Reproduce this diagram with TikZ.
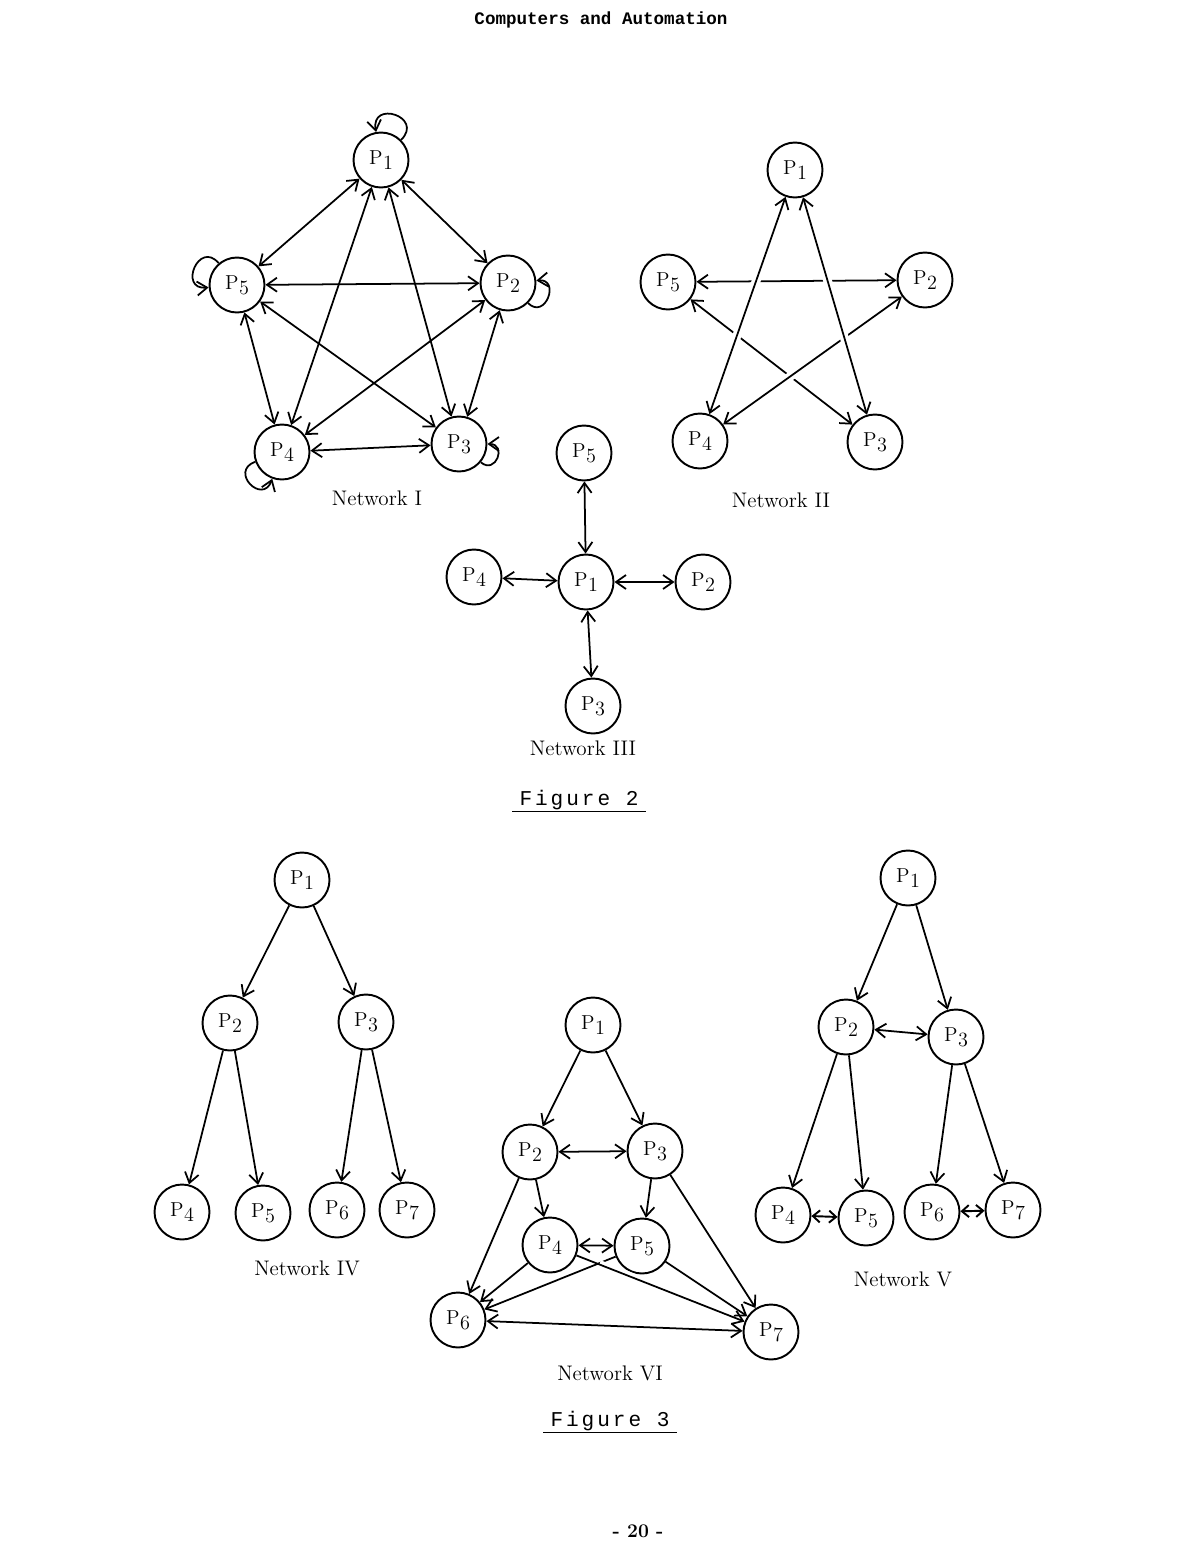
\documentclass[tikz,border=0pt]{standalone}
\usepackage{fontspec}
\newfontfamily\headfont{Liberation Mono}
\newfontfamily\figfont{Liberation Mono}[LetterSpace=14]
\usetikzlibrary{arrows.meta,calc}
\newcommand{\plabel}[1]{P\kern.3pt\raisebox{-.6ex}{#1}}
\tikzset{
  proc/.style={circle,draw,line width=1.1pt,minimum size=1.1cm,inner sep=0pt,
               font=\fontsize{11.5}{13}\selectfont},
  oneway/.style={-{Straight Barb[length=2mm,width=2.8mm]},line width=1pt},
  twoway/.style={{Straight Barb[length=2mm,width=2.8mm]}-{Straight Barb[length=2mm,width=2.8mm]},line width=1pt},
  shortway/.style={{Straight Barb[length=1.4mm,width=2.4mm]}-{Straight Barb[length=1.4mm,width=2.4mm]},line width=1.1pt},
  over/.style={preaction={draw,white,line width=5pt,-,shorten <=14pt,shorten >=14pt}},
  netlbl/.style={font=\fontsize{12}{14}\selectfont},
  figlbl/.style={font=\figfont\fontsize{12}{14}\selectfont,inner sep=1pt},
}
\begin{document}
\begin{tikzpicture}[x=0.02cm,y=-0.02cm]
\useasboundingbox (0,0) rectangle (1188,1549);
% page head and foot
\node[font=\headfont\bfseries\fontsize{10}{12}\selectfont] (head) at (601,20) {Computers and Automation};
\node[font=\bfseries\fontsize{11}{13}\selectfont] (page) at (638,1531) {- 20 -};
% network I
\foreach \n/\x/\y in {1/381/160,2/508/283,3/459/444,4/282/452,5/237/285}
  \node[proc] (i\n) at (\x,\y) {\plabel{\n}};
\foreach \s/\t in {1/5,1/2,1/4,1/3,5/2,5/4,5/3,2/4,2/3,4/3}
  \draw[twoway] (i\s) -- (i\t);
\draw[oneway] (i1) to[out=45,in=100,looseness=3.2] (i1);
\draw[oneway] (i5) to[out=130,in=185,looseness=3] (i5);
\draw[oneway] (i2) to[out=-45,in=5,looseness=2.6] (i2);
\draw[oneway] (i4) to[out=200,in=250,looseness=3] (i4);
\draw[oneway] (i3) to[out=-40,in=0,looseness=2.6] (i3);
\node[netlbl] (lab1) at (377,498) {Network I};
% network II
\foreach \n/\x/\y in {1/795/170,2/925/280,3/875/442,4/700/441,5/668/282}
  \node[proc] (ii\n) at (\x,\y) {\plabel{\n}};
\draw[twoway] (ii5) -- (ii2);
\draw[twoway] (ii5) -- (ii3);
\draw[twoway,over] (ii2) -- (ii4);
\draw[twoway,over] (ii1) -- (ii4);
\draw[twoway,over] (ii1) -- (ii3);
\node[netlbl] (lab2) at (781,500) {Network II};
% network III
\foreach \n/\x/\y in {1/586/582,2/703/582,3/593/706,4/474/577,5/584/453}
  \node[proc] (iii\n) at (\x,\y) {\plabel{\n}};
\foreach \t in {2,3,4,5}
  \draw[twoway] (iii1) -- (iii\t);
\node[netlbl] (lab3) at (583,748) {Network III};
\node[figlbl] (fig2) at (579,800) {Figure 2};
\draw[line width=0.9pt] ($(fig2.base west)+(-3pt,-3.5pt)$) -- ($(fig2.base east)+(3pt,-3.5pt)$);
% network IV
\foreach \n/\x/\y in {1/302/880,2/230/1023,3/366/1022,4/182/1212,5/263/1213,6/337/1210,7/407/1210}
  \node[proc] (iv\n) at (\x,\y) {\plabel{\n}};
\foreach \s/\t in {1/2,1/3,2/4,2/5,3/6,3/7}
  \draw[oneway] (iv\s) -- (iv\t);
\node[netlbl] (lab4) at (307,1268) {Network IV};
% network V
\foreach \n/\x/\y in {1/908/878,2/846/1027,3/956/1037,4/783/1215,5/866/1218,6/932/1212,7/1013/1210}
  \node[proc] (v\n) at (\x,\y) {\plabel{\n}};
\foreach \s/\t in {1/2,1/3,2/4,2/5,3/6,3/7}
  \draw[oneway] (v\s) -- (v\t);
\draw[twoway] (v2) -- (v3);
\draw[shortway] (v4) -- (v5);
\draw[shortway] (v6) -- (v7);
\node[netlbl] (lab5) at (903,1279) {Network V};
% network VI
\foreach \n/\x/\y in {1/593/1025,2/530/1152,3/655/1151,4/550/1245,5/642/1246,6/458/1320,7/771/1332}
  \node[proc] (vi\n) at (\x,\y) {\plabel{\n}};
\foreach \s/\t in {1/2,1/3,2/4,3/5,2/6,3/7,4/6,5/6,5/7}
  \draw[oneway] (vi\s) -- (vi\t);
\draw[oneway,over] (vi4) -- (vi7);
\foreach \s/\t in {2/3,4/5,6/7}
  \draw[twoway] (vi\s) -- (vi\t);
\node[netlbl] (lab6) at (610,1373) {Network VI};
\node[figlbl] (fig3) at (610,1421) {Figure 3};
\draw[line width=0.9pt] ($(fig3.base west)+(-3pt,-3.5pt)$) -- ($(fig3.base east)+(3pt,-3.5pt)$);
\end{tikzpicture}
\end{document}
